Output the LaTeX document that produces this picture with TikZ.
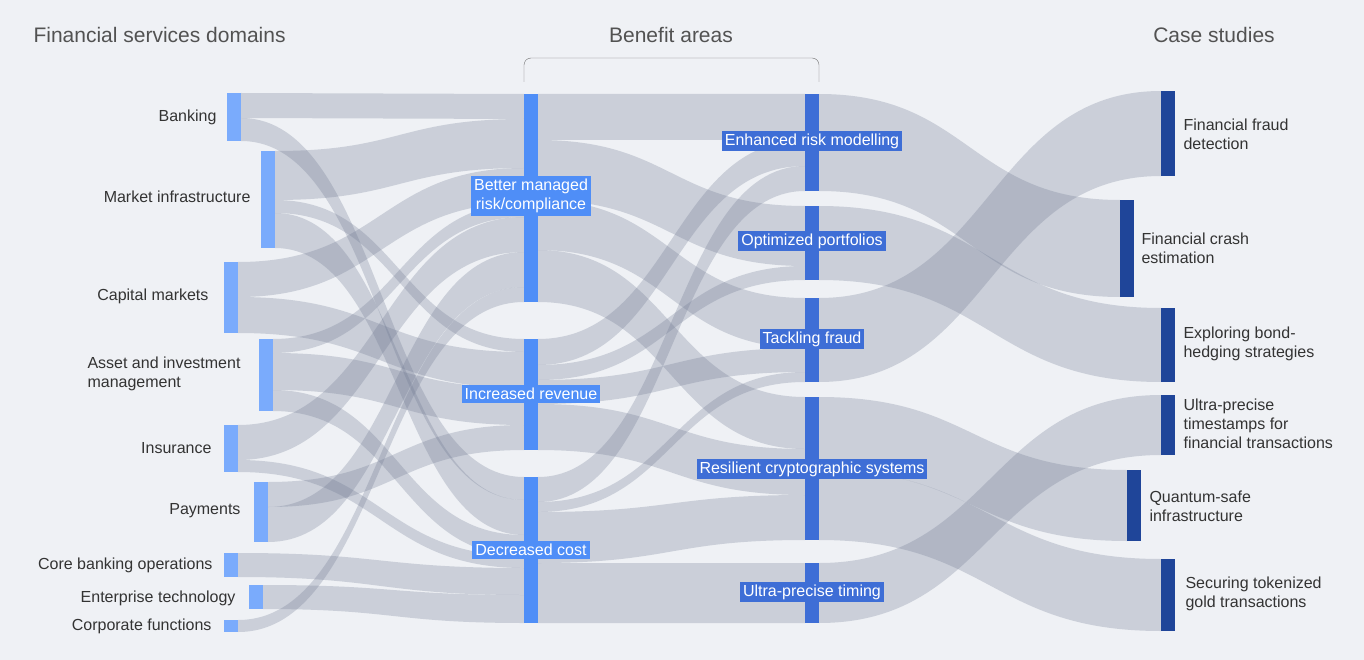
\documentclass[tikz,border=0pt]{standalone}
\usepackage{fontspec}
\setmainfont{Liberation Sans}
\usetikzlibrary{positioning}
\definecolor{bgc}{HTML}{EFF1F5}
\definecolor{flowc}{HTML}{6E7891}
\definecolor{domc}{HTML}{7AABFC}
\definecolor{benc}{HTML}{4F8EF7}
\definecolor{usec}{HTML}{3E6ED6}
\definecolor{casec}{HTML}{1F4599}
\definecolor{txtc}{HTML}{333333}
\tikzset{
    flow/.style={fill=flowc, fill opacity=0.28},
    dombar/.style={rectangle, fill=domc, minimum width=14pt, inner sep=0pt},
    benbar/.style={rectangle, fill=benc, minimum width=14pt, inner sep=0pt},
    usebar/.style={rectangle, fill=usec, minimum width=14pt, inner sep=0pt},
    casebar/.style={rectangle, fill=casec, minimum width=14pt, inner sep=0pt},
    lbl/.style={text=txtc, font=\fontsize{16}{19}\selectfont, align=left},
    tag/.style={text=white, font=\fontsize{16}{19}\selectfont, align=center, inner sep=3pt},
    head/.style={text=txtc!85, font=\fontsize{21}{25}\selectfont}
}
% band from (x1,y1..y2) to (x2,y3..y4)
\newcommand\flowband[6]{%
  \fill[flow] (#1,#2) .. controls ({(#1+#4)/2},#2) and ({(#1+#4)/2},#5) .. (#4,#5)
    -- (#4,#6) .. controls ({(#1+#4)/2},#6) and ({(#1+#4)/2},#3) .. (#1,#3) -- cycle;}
\begin{document}
\begin{tikzpicture}[x=1pt, y=-1pt]
    \fill[bgc] (0,0) rectangle (1364,660);
    \useasboundingbox (0,0) rectangle (1364,660);

    % Domains to benefit areas
    \flowband{241}{93}{118}{524}{94}{119}
    \flowband{241}{118}{141}{524}{477}{500}
    \flowband{275}{151}{200}{524}{119}{168}
    \flowband{275}{200}{213}{524}{339}{352}
    \flowband{275}{213}{248}{524}{500}{535}
    \flowband{238}{262}{297}{524}{168}{203}
    \flowband{238}{297}{333}{524}{352}{388}
    \flowband{273}{339}{353}{524}{203}{217}
    \flowband{273}{353}{390}{524}{388}{425}
    \flowband{273}{390}{411}{524}{535}{556}
    \flowband{238}{425}{460}{524}{217}{252}
    \flowband{238}{460}{472}{524}{556}{568}
    \flowband{268}{482}{507}{524}{425}{450}
    \flowband{268}{507}{542}{524}{252}{287}
    \flowband{238}{553}{577}{524}{568}{595}
    \flowband{263}{585}{609}{524}{595}{623}
    \flowband{238}{620}{632}{524}{287}{302}

    % Benefit areas to use cases
    \flowband{538}{94}{140}{805}{94}{140}
    \flowband{538}{140}{200}{805}{206}{266}
    \flowband{538}{200}{250}{805}{298}{348}
    \flowband{538}{250}{302}{805}{397}{449}
    \flowband{538}{339}{365}{805}{140}{166}
    \flowband{538}{365}{380}{805}{266}{280}
    \flowband{538}{380}{404}{805}{348}{372}
    \flowband{538}{404}{450}{805}{449}{495}
    \flowband{538}{477}{502}{805}{166}{191}
    \flowband{538}{502}{512}{805}{372}{382}
    \flowband{538}{512}{563}{805}{495}{540}
    \flowband{538}{563}{623}{805}{563}{623}

    % Use cases to case studies
    \flowband{819}{94}{191}{1120}{200}{297}
    \flowband{819}{206}{280}{1161}{308}{382}
    \flowband{819}{298}{382}{1161}{91}{176}
    \flowband{819}{397}{470}{1127}{470}{541}
    \flowband{819}{470}{540}{1161}{559}{631}
    \flowband{819}{563}{623}{1161}{395}{455}

    % Domain bars
    \node[dombar, minimum height=48pt] (bank) at (234,117) {};
    \node[dombar, minimum height=97pt] (infra) at (268,199.5) {};
    \node[dombar, minimum height=71pt] (capm) at (231,297.5) {};
    \node[dombar, minimum height=72pt] (asset) at (266,375) {};
    \node[dombar, minimum height=47pt] (insur) at (231,448.5) {};
    \node[dombar, minimum height=60pt] (paym) at (261,512) {};
    \node[dombar, minimum height=24pt] (coreb) at (231,565) {};
    \node[dombar, minimum height=24pt] (entt) at (256,597) {};
    \node[dombar, minimum height=12pt] (corpf) at (231,626) {};

    \node[lbl, anchor=east] at (220,117) {Banking};
    \node[lbl, anchor=east] at (254,197) {Market infrastructure};
    \node[lbl, anchor=east] at (212,296) {Capital markets};
    \node[lbl, anchor=west] at (84,374) {Asset and investment\\management};
    \node[lbl, anchor=east] at (215,448) {Insurance};
    \node[lbl, anchor=east] at (244,511) {Payments};
    \node[lbl, anchor=east] at (216,565) {Core banking operations};
    \node[lbl, anchor=east] at (239,598) {Enterprise technology};
    \node[lbl, anchor=east] at (215,626) {Corporate functions};

    % Benefit bars
    \node[benbar, minimum height=208pt] (risk) at (531,198) {};
    \node[benbar, minimum height=111pt] (revn) at (531,394.5) {};
    \node[benbar, minimum height=146pt] (cost) at (531,550) {};
    \node[tag, fill=benc] at (531,196) {Better managed\\risk/compliance};
    \node[tag, fill=benc] at (531,394) {Increased revenue};
    \node[tag, fill=benc] at (531,550) {Decreased cost};

    % Use case bars
    \node[usebar, minimum height=97pt] (model) at (812,142.5) {};
    \node[usebar, minimum height=74pt] (portf) at (812,243) {};
    \node[usebar, minimum height=84pt] (fraud) at (812,340) {};
    \node[usebar, minimum height=143pt] (crypt) at (812,468.5) {};
    \node[usebar, minimum height=60pt] (timing) at (812,593) {};
    \node[tag, fill=usec] at (812,141) {Enhanced risk modelling};
    \node[tag, fill=usec] at (812,241) {Optimized portfolios};
    \node[tag, fill=usec] at (812,339) {Tackling fraud};
    \node[tag, fill=usec] at (812,469) {Resilient cryptographic systems};
    \node[tag, fill=usec] at (812,592) {Ultra-precise timing};

    % Case study bars
    \node[casebar, minimum height=85pt] (cfraud) at (1168,133.5) {};
    \node[casebar, minimum height=97pt] (ccrash) at (1127,248.5) {};
    \node[casebar, minimum height=74pt] (cbond) at (1168,345) {};
    \node[casebar, minimum height=60pt] (cstamp) at (1168,425) {};
    \node[casebar, minimum height=71pt] (cquant) at (1134,505.5) {};
    \node[casebar, minimum height=72pt] (cgold) at (1168,595) {};

    \node[lbl, anchor=west] at (1180,134) {Financial fraud\\detection};
    \node[lbl, anchor=west] at (1138,248) {Financial crash\\estimation};
    \node[lbl, anchor=west] at (1180,344) {Exploring bond-\\hedging strategies};
    \node[lbl, anchor=west] at (1180,424) {Ultra-precise\\timestamps for\\financial transactions};
    \node[lbl, anchor=west] at (1146,506) {Quantum-safe\\infrastructure};
    \node[lbl, anchor=west] at (1182,594) {Securing tokenized\\gold transactions};

    % Headers
    \node[head, anchor=west] (hdom) at (30,35) {Financial services domains};
    \node[head] (hben) at (671,35) {Benefit areas};
    \node[head] (hcase) at (1214,35) {Case studies};
    \draw[txtc!70, rounded corners=7pt] (524,82) -- (524,58) -- (819,58) -- (819,82);
\end{tikzpicture}
\end{document}
